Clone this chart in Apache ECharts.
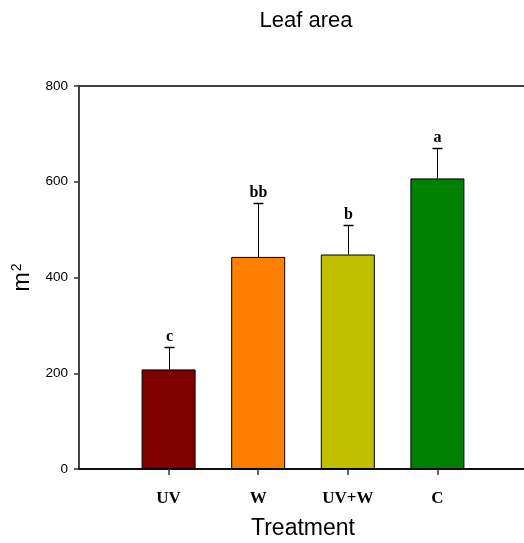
<!DOCTYPE html>
<html>
<head>
<meta charset="utf-8">
<script src="https://cdn.jsdelivr.net/npm/echarts@6/dist/echarts.min.js"></script>
<style>html,body{margin:0;padding:0;background:#fff;}#c{width:524px;height:543px;}</style>
</head>
<body>
<div id="c"></div>
<script>
const categories = ['UV', 'W', 'UV+W', 'C'];
const means = [208, 443, 448, 607];
const errors = [47, 112, 62, 63];
const letters = ['c', 'bb', 'b', 'a'];
const colors = ['#800000', '#FF8000', '#C0C000', '#008000'];

const axisCats = [''].concat(categories).concat(['']);
const barData = [null].concat(means.map((v, i) => ({ value: v, itemStyle: { color: colors[i] } }))).concat([null]);
const errData = categories.map((c, i) => [i + 1, means[i], errors[i]]);

const chart = echarts.init(document.getElementById('c'));
chart.setOption({
  animation: false,
  title: {
    text: 'Leaf area', left: 301, top: 5, textAlign: 'center',
    textStyle: { fontFamily: 'Liberation Sans', fontSize: 22, fontWeight: 'normal', color: '#000' }
  },
  grid: { left: 79, width: 448, top: 86, bottom: 74, show: true, borderColor: '#000', borderWidth: 1.5, containLabel: false, outerBoundsMode: 'none' },
  xAxis: {
    type: 'category', data: axisCats, boundaryGap: false,
    name: 'Treatment', nameLocation: 'middle', nameGap: 48,
    nameTextStyle: { fontFamily: 'Liberation Sans', fontSize: 23, color: '#000' },
    axisLine: { lineStyle: { color: '#000', width: 1.5 } },
    axisTick: { show: true, length: 6, interval: (i, v) => v !== '', lineStyle: { color: '#333', width: 1.5 } },
    axisLabel: { interval: 0, margin: 21, fontFamily: 'Liberation Serif', fontWeight: 'bold', fontSize: 17, color: '#000' },
    splitLine: { show: false }
  },
  yAxis: {
    type: 'value', min: 0, max: 800, interval: 200,
    name: '{m|m}{s|2}', nameLocation: 'middle', nameGap: 35, nameRotate: 90,
    nameTextStyle: {
      fontFamily: 'Liberation Sans', fontSize: 22, color: '#000',
      rich: {
        m: { fontFamily: 'Liberation Sans', fontSize: 23, color: '#000', verticalAlign: 'bottom' },
        s: { fontFamily: 'Liberation Sans', fontSize: 14, color: '#000', verticalAlign: 'top', padding: [0, 0, 10, 1] }
      }
    },
    axisLine: { show: true, lineStyle: { color: '#444', width: 1.5 } },
    axisTick: { show: true, length: 5, lineStyle: { color: '#333', width: 1.5 } },
    axisLabel: { margin: 11, fontFamily: 'Liberation Sans', fontSize: 13.5, color: '#000' },
    splitLine: { show: false }
  },
  series: [
    {
      type: 'bar', data: barData, barWidth: 54,
      itemStyle: { borderColor: '#000', borderWidth: 1 }
    },
    {
      type: 'custom', data: errData, z: 5,
      renderItem: function (params, api) {
        const idx = api.value(0);
        const m = api.value(1), e = api.value(2);
        const base = api.coord([idx, m]);
        const top = api.coord([idx, m + e]);
        const x = Math.round(base[0]) + 0.5;
        const ty = Math.round(top[1]) + 0.5;
        return {
          type: 'group',
          children: [
            { type: 'line', shape: { x1: x, y1: base[1], x2: x, y2: ty }, style: { stroke: '#000', lineWidth: 1 } },
            { type: 'line', shape: { x1: x - 5, y1: ty, x2: x + 5, y2: ty }, style: { stroke: '#000', lineWidth: 1.5 } },
            { type: 'text', x: x, y: ty - 3, style: { text: letters[params.dataIndex], textAlign: 'center', textVerticalAlign: 'bottom', fontFamily: 'Liberation Serif', fontWeight: 'bold', fontSize: 16, fill: '#000' } }
          ]
        };
      }
    }
  ]
});
</script>
</body>
</html>
